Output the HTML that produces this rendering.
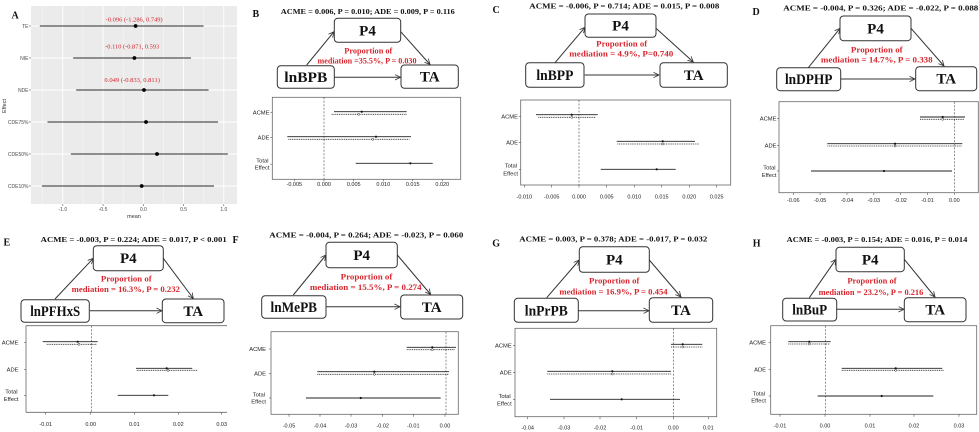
<!DOCTYPE html>
<html><head><meta charset="utf-8"><style>
html,body{margin:0;padding:0;background:#fff;}
svg{display:block;}
.sf{font-family:"Liberation Serif",serif;}
.ss{font-family:"Liberation Sans",sans-serif;}
.tt{font-family:"Liberation Serif",serif;font-weight:bold;font-size:7.5px;fill:#111;text-anchor:middle;}
.rd{font-family:"Liberation Serif",serif;font-weight:bold;font-size:8px;fill:#d8262e;text-anchor:middle;}
.bl{font-family:"Liberation Serif",serif;font-weight:bold;font-size:15px;fill:#111;text-anchor:middle;}
.lt{font-family:"Liberation Serif",serif;font-weight:bold;font-size:10px;fill:#111;}
.bx{fill:#fff;stroke:#333;stroke-width:1;}
.ar{stroke:#333;stroke-width:1;fill:none;}
.pb{fill:none;stroke:#666;stroke-width:0.8;}
.xl{font-family:"Liberation Sans",sans-serif;font-size:5.5px;fill:#222;text-anchor:middle;}
.yl{font-family:"Liberation Sans",sans-serif;font-size:5.8px;fill:#222;text-anchor:end;}
.tk{stroke:#555;stroke-width:0.6;}
.s{stroke:#222;stroke-width:0.9;}
.d{stroke:#222;stroke-width:0.8;stroke-dasharray:1,0.8;}
.z{stroke:#444;stroke-width:0.6;stroke-dasharray:2,1.5;}
.pt{fill:#111;}
</style></head><body>
<svg width="979" height="432" viewBox="0 0 979 432" xmlns="http://www.w3.org/2000/svg">
<defs>
<marker id="ah" markerWidth="7" markerHeight="7" refX="5.5" refY="3" orient="auto" markerUnits="userSpaceOnUse"><path d="M0,0.3 L5.5,3 L0,5.7" fill="none" stroke="#333" stroke-width="0.8"/></marker>
<clipPath id="ce"><rect x="0" y="215" width="227" height="217"/></clipPath>
</defs>

<!-- ================= Panel A ================= -->
<rect x="31" y="6" width="206" height="198" fill="#ebebeb"/>
<g stroke="#fff" stroke-width="0.4">
<line x1="42.7" y1="6" x2="42.7" y2="204"/><line x1="82.9" y1="6" x2="82.9" y2="204"/><line x1="123.2" y1="6" x2="123.2" y2="204"/><line x1="163.4" y1="6" x2="163.4" y2="204"/><line x1="203.7" y1="6" x2="203.7" y2="204"/>
</g>
<g stroke="#fff" stroke-width="0.9">
<line x1="62.8" y1="6" x2="62.8" y2="204"/><line x1="103.05" y1="6" x2="103.05" y2="204"/><line x1="143.3" y1="6" x2="143.3" y2="204"/><line x1="183.55" y1="6" x2="183.55" y2="204"/><line x1="223.8" y1="6" x2="223.8" y2="204"/>
<line x1="31" y1="26" x2="237" y2="26"/><line x1="31" y1="58" x2="237" y2="58"/><line x1="31" y1="90" x2="237" y2="90"/><line x1="31" y1="122" x2="237" y2="122"/><line x1="31" y1="154" x2="237" y2="154"/><line x1="31" y1="186" x2="237" y2="186"/>
</g>
<g stroke="#555" stroke-width="1.3">
<line x1="39.8" y1="26" x2="203.6" y2="26"/>
<line x1="73.2" y1="58" x2="191" y2="58"/>
<line x1="76.2" y1="90" x2="208.6" y2="90"/>
<line x1="47.5" y1="122" x2="218" y2="122"/>
<line x1="70.8" y1="154" x2="227.8" y2="154"/>
<line x1="41.9" y1="186" x2="214" y2="186"/>
</g>
<g fill="#000">
<circle cx="135.6" cy="26" r="1.9"/><circle cx="134.4" cy="58" r="1.9"/><circle cx="144" cy="90" r="1.9"/><circle cx="146" cy="122" r="1.9"/><circle cx="157" cy="154" r="1.9"/><circle cx="141.7" cy="186" r="1.9"/>
</g>
<g class="sf" font-size="6px" fill="#d8262e" text-anchor="middle">
<text x="134.2" y="21.3" textLength="57" lengthAdjust="spacingAndGlyphs">-0.096 (-1.286, 0.749)</text>
<text x="132.2" y="48.7" textLength="54" lengthAdjust="spacingAndGlyphs">-0.110 (-0.871, 0.593</text>
<text x="132.2" y="82" textLength="55.5" lengthAdjust="spacingAndGlyphs">0.049 (-0.833, 0.811)</text>
</g>
<g class="ss" font-size="5px" fill="#4d4d4d" text-anchor="end">
<text x="28.5" y="27.8">TE</text><text x="28.5" y="59.8">NIE</text><text x="28.5" y="91.8">NDE</text><text x="28.5" y="123.8">CDE75%</text><text x="28.5" y="155.8">CDE50%</text><text x="28.5" y="187.8">CDE10%</text>
</g>
<g class="tk"><line x1="29" y1="26" x2="31" y2="26"/><line x1="29" y1="58" x2="31" y2="58"/><line x1="29" y1="90" x2="31" y2="90"/><line x1="29" y1="122" x2="31" y2="122"/><line x1="29" y1="154" x2="31" y2="154"/><line x1="29" y1="186" x2="31" y2="186"/>
<line x1="62.8" y1="204" x2="62.8" y2="206"/><line x1="103.05" y1="204" x2="103.05" y2="206"/><line x1="143.3" y1="204" x2="143.3" y2="206"/><line x1="183.55" y1="204" x2="183.55" y2="206"/><line x1="223.8" y1="204" x2="223.8" y2="206"/></g>
<g class="ss" font-size="5px" fill="#4d4d4d" text-anchor="middle">
<text x="62.8" y="211">-1.0</text><text x="103.05" y="211">-0.5</text><text x="143.3" y="211">0.0</text><text x="183.55" y="211">0.5</text><text x="223.8" y="211">1.0</text>
</g>
<text class="ss" x="134" y="218" font-size="5.5px" fill="#333" text-anchor="middle">mean</text>
<text class="ss" x="0" y="0" font-size="5.5px" fill="#333" text-anchor="middle" transform="translate(6,106) rotate(-90)">Effect</text>
<text class="lt" x="11.5" y="18.5">A</text>

<!-- ================= Panel B ================= -->
<text class="lt" x="252.5" y="17">B</text>
<text class="tt" x="367.8" y="14" textLength="174" lengthAdjust="spacingAndGlyphs">ACME = 0.006, P = 0.010; ADE = 0.009, P = 0.116</text>
<line class="ar" x1="306.7" y1="65" x2="334" y2="31.7" marker-end="url(#ah)"/>
<line class="ar" x1="400.7" y1="31.7" x2="430" y2="64.5" marker-end="url(#ah)"/>
<line class="ar" x1="334.7" y1="77.3" x2="400.5" y2="77.3" marker-end="url(#ah)"/>
<rect class="bx" x="334.3" y="18.3" width="66.4" height="24" rx="3.5"/>
<rect class="bx" x="277.3" y="65.7" width="57" height="22.6" rx="3.5"/>
<rect class="bx" x="401" y="65" width="57.3" height="23.3" rx="3.5"/>
<text class="bl" x="367.5" y="35.3">P4</text>
<text class="bl" x="305.8" y="82" textLength="43" lengthAdjust="spacingAndGlyphs">lnBPB</text>
<text class="bl" x="429.7" y="81.7">TA</text>
<text class="rd" x="368.3" y="53.5" textLength="48" lengthAdjust="spacingAndGlyphs">Proportion of</text>
<text class="rd" x="367" y="63.3" textLength="99" lengthAdjust="spacingAndGlyphs">mediation =35.5%, P = 0.030</text>
<rect class="pb" x="272.3" y="97.3" width="188.4" height="82"/>
<line class="z" x1="324" y1="97.3" x2="324" y2="179.3"/>
<g class="tk"><line x1="270.3" y1="112.7" x2="272.3" y2="112.7"/><line x1="270.3" y1="137.7" x2="272.3" y2="137.7"/><line x1="270.3" y1="164.2" x2="272.3" y2="164.2"/>
<line x1="294.3" y1="179.3" x2="294.3" y2="181.3"/><line x1="324" y1="179.3" x2="324" y2="181.3"/><line x1="353.7" y1="179.3" x2="353.7" y2="181.3"/><line x1="383.3" y1="179.3" x2="383.3" y2="181.3"/><line x1="412.7" y1="179.3" x2="412.7" y2="181.3"/><line x1="442.3" y1="179.3" x2="442.3" y2="181.3"/></g>
<text class="yl" x="269.5" y="114.7">ACME</text><text class="yl" x="269.5" y="139.7">ADE</text><text class="yl" x="268.5" y="162.7">Total</text><text class="yl" x="269.5" y="169.7">Effect</text>
<text class="xl" x="294.3" y="186">-0.005</text><text class="xl" x="324" y="186">0.000</text><text class="xl" x="353.7" y="186">0.005</text><text class="xl" x="383.3" y="186">0.010</text><text class="xl" x="412.7" y="186">0.015</text><text class="xl" x="442.3" y="186">0.020</text>
<line class="s" x1="334" y1="111.7" x2="406.7" y2="111.7"/><line class="d" x1="331.7" y1="114.3" x2="406.7" y2="114.3"/>
<line class="s" x1="287.3" y1="136.7" x2="411" y2="136.7"/><line class="d" x1="288.3" y1="139.3" x2="409.3" y2="139.3"/>
<line class="s" x1="355.7" y1="163.3" x2="432.7" y2="163.3"/>
<circle class="pt" cx="361.7" cy="111.7" r="1.1"/><circle cx="358.7" cy="114.3" r="1" fill="#fff" stroke="#222" stroke-width="0.5"/>
<circle class="pt" cx="376" cy="136.7" r="1.1"/><circle cx="372.7" cy="139.3" r="1" fill="#fff" stroke="#222" stroke-width="0.5"/>
<circle class="pt" cx="410.3" cy="163.3" r="1.1"/>

<!-- ================= Panel C ================= -->
<text class="lt" x="492.5" y="13">C</text>
<text class="tt" x="624.3" y="8.3" textLength="190" lengthAdjust="spacingAndGlyphs">ACME = -0.006, P = 0.714; ADE = 0.015, P = 0.008</text>
<line class="ar" x1="555" y1="62.7" x2="585" y2="27.3" marker-end="url(#ah)"/>
<line class="ar" x1="656" y1="28.3" x2="693.3" y2="62" marker-end="url(#ah)"/>
<line class="ar" x1="584.7" y1="75" x2="659" y2="75" marker-end="url(#ah)"/>
<rect class="bx" x="585" y="14" width="71" height="23.3" rx="3.5"/>
<rect class="bx" x="525.7" y="62.7" width="58.3" height="24.6" rx="3.5"/>
<rect class="bx" x="660" y="62.7" width="67.3" height="24.6" rx="3.5"/>
<text class="bl" x="620.5" y="30.7">P4</text>
<text class="bl" x="554.9" y="80" textLength="37" lengthAdjust="spacingAndGlyphs">lnBPP</text>
<text class="bl" x="693.7" y="80">TA</text>
<text class="rd" x="621.7" y="46.5" textLength="51" lengthAdjust="spacingAndGlyphs">Proportion of</text>
<text class="rd" x="621.3" y="56.7" textLength="104" lengthAdjust="spacingAndGlyphs">mediation = 4.9%, P=0.740</text>
<rect class="pb" x="520.7" y="100" width="210" height="85"/>
<line class="z" x1="579" y1="100" x2="579" y2="185"/>
<g class="tk"><line x1="518.7" y1="116.3" x2="520.7" y2="116.3"/><line x1="518.7" y1="142.7" x2="520.7" y2="142.7"/><line x1="518.7" y1="169.5" x2="520.7" y2="169.5"/>
<line x1="524.3" y1="185" x2="524.3" y2="187.5"/><line x1="551.7" y1="185" x2="551.7" y2="187.5"/><line x1="579" y1="185" x2="579" y2="187.5"/><line x1="606.7" y1="185" x2="606.7" y2="187.5"/><line x1="634.3" y1="185" x2="634.3" y2="187.5"/><line x1="661.7" y1="185" x2="661.7" y2="187.5"/><line x1="689.3" y1="185" x2="689.3" y2="187.5"/><line x1="716.7" y1="185" x2="716.7" y2="187.5"/></g>
<text class="yl" x="518" y="118.3">ACME</text><text class="yl" x="518" y="144.7">ADE</text><text class="yl" x="517" y="167.7">Total</text><text class="yl" x="518" y="175.3">Effect</text>
<text class="xl" x="524.3" y="198.7">-0.010</text><text class="xl" x="551.7" y="198.7">-0.005</text><text class="xl" x="579" y="198.7">0.000</text><text class="xl" x="606.7" y="198.7">0.005</text><text class="xl" x="634.3" y="198.7">0.010</text><text class="xl" x="661.7" y="198.7">0.015</text><text class="xl" x="689.3" y="198.7">0.020</text><text class="xl" x="716.7" y="198.7">0.025</text>
<line class="s" x1="536" y1="114.7" x2="597.7" y2="114.7"/><line class="d" x1="538.3" y1="117.3" x2="596" y2="117.3"/>
<line class="s" x1="616.7" y1="141.3" x2="695" y2="141.3"/><line class="d" x1="617.3" y1="144" x2="699" y2="144"/>
<line class="s" x1="600.7" y1="169.3" x2="675.7" y2="169.3"/>
<circle class="pt" cx="571.7" cy="114.7" r="1.1"/><circle cx="571.7" cy="117.3" r="1" fill="#fff" stroke="#222" stroke-width="0.5"/>
<circle class="pt" cx="662.7" cy="141.3" r="1.1"/><circle cx="662.7" cy="144" r="1" fill="#fff" stroke="#222" stroke-width="0.5"/>
<circle class="pt" cx="656.7" cy="169.3" r="1.1"/>

<!-- ================= Panel D ================= -->
<text class="lt" x="752.5" y="15">D</text>
<text class="tt" x="880.8" y="10.5" textLength="195" lengthAdjust="spacingAndGlyphs">ACME = -0.004, P = 0.326; ADE = -0.022, P = 0.088</text>
<line class="ar" x1="808.3" y1="67.7" x2="840" y2="28.3" marker-end="url(#ah)"/>
<line class="ar" x1="911" y1="28.3" x2="944" y2="66" marker-end="url(#ah)"/>
<line class="ar" x1="840.7" y1="79" x2="915" y2="79" marker-end="url(#ah)"/>
<rect class="bx" x="840" y="16" width="71" height="24.7" rx="3.5"/>
<rect class="bx" x="776.7" y="67.7" width="64" height="23" rx="3.5"/>
<rect class="bx" x="915.7" y="66.7" width="61" height="24" rx="3.5"/>
<text class="bl" x="875.5" y="33.3">P4</text>
<text class="bl" x="808.7" y="84.2" textLength="47.5" lengthAdjust="spacingAndGlyphs">lnDPHP</text>
<text class="bl" x="946.2" y="83.7">TA</text>
<text class="rd" x="876.8" y="52.5" textLength="51.7" lengthAdjust="spacingAndGlyphs">Proportion of</text>
<text class="rd" x="876.8" y="62.7" textLength="111.7" lengthAdjust="spacingAndGlyphs">mediation = 14.7%, P = 0.338</text>
<rect class="pb" x="779" y="101.7" width="199.3" height="91"/>
<line class="z" x1="954.3" y1="101.7" x2="954.3" y2="192.7"/>
<g class="tk"><line x1="777" y1="118.3" x2="779" y2="118.3"/><line x1="777" y1="145.3" x2="779" y2="145.3"/><line x1="777" y1="171" x2="779" y2="171"/>
<line x1="793.3" y1="192.7" x2="793.3" y2="195"/><line x1="820.1" y1="192.7" x2="820.1" y2="195"/><line x1="847" y1="192.7" x2="847" y2="195"/><line x1="873.8" y1="192.7" x2="873.8" y2="195"/><line x1="900.6" y1="192.7" x2="900.6" y2="195"/><line x1="927.5" y1="192.7" x2="927.5" y2="195"/><line x1="954.3" y1="192.7" x2="954.3" y2="195"/></g>
<text class="yl" x="776.5" y="120.3">ACME</text><text class="yl" x="776.5" y="147.3">ADE</text><text class="yl" x="775.5" y="169.3">Total</text><text class="yl" x="776.5" y="177">Effect</text>
<text class="xl" x="793.3" y="202">-0.06</text><text class="xl" x="820.1" y="202">-0.05</text><text class="xl" x="847" y="202">-0.04</text><text class="xl" x="873.8" y="202">-0.03</text><text class="xl" x="900.6" y="202">-0.02</text><text class="xl" x="927.5" y="202">-0.01</text><text class="xl" x="954.3" y="202">0.00</text>
<line class="s" x1="920" y1="117" x2="965" y2="117"/><line class="d" x1="920" y1="119.3" x2="964" y2="119.3"/>
<line class="s" x1="827.3" y1="143.7" x2="962.3" y2="143.7"/><line class="d" x1="827.3" y1="146" x2="962.3" y2="146"/>
<line class="s" x1="811" y1="171" x2="952" y2="171"/>
<circle class="pt" cx="942.7" cy="117" r="1.1"/><circle cx="942.7" cy="119.3" r="1" fill="#fff" stroke="#222" stroke-width="0.5"/>
<circle class="pt" cx="895" cy="143.7" r="1.1"/><circle cx="895" cy="146" r="1" fill="#fff" stroke="#222" stroke-width="0.5"/>
<circle class="pt" cx="884" cy="171" r="1.1"/>

<!-- ================= Panel E ================= -->
<text class="lt" x="3.5" y="245.7">E</text>
<text class="tt" x="133.7" y="242" textLength="186" lengthAdjust="spacingAndGlyphs">ACME = -0.003, P = 0.224; ADE = 0.017, P &lt; 0.001</text>
<line class="ar" x1="55" y1="299" x2="93.3" y2="258.3" marker-end="url(#ah)"/>
<line class="ar" x1="163.3" y1="258.3" x2="193.3" y2="298.5" marker-end="url(#ah)"/>
<line class="ar" x1="90" y1="310.7" x2="162" y2="310.7" marker-end="url(#ah)"/>
<rect class="bx" x="93.3" y="245.7" width="70" height="25" rx="3.5"/>
<rect class="bx" x="21" y="299.7" width="68.3" height="22.6" rx="3.5"/>
<rect class="bx" x="162.3" y="299" width="61.7" height="23.7" rx="3.5"/>
<text class="bl" x="128.3" y="263.2">P4</text>
<text class="bl" x="55.2" y="316" textLength="50" lengthAdjust="spacingAndGlyphs">lnPFHxS</text>
<text class="bl" x="193.2" y="315.8">TA</text>
<text class="rd" x="126.3" y="281.6" textLength="50.7" lengthAdjust="spacingAndGlyphs">Proportion of</text>
<text class="rd" x="125.8" y="292" textLength="108.3" lengthAdjust="spacingAndGlyphs">mediation = 16.3%, P = 0.232</text>
<g class="pb"><line x1="26" y1="325.7" x2="227" y2="325.7"/><line x1="26" y1="325.7" x2="26" y2="412.3"/><line x1="26" y1="412.3" x2="227" y2="412.3"/></g>
<line class="z" x1="91.3" y1="325.7" x2="91.3" y2="412.3"/>
<g class="tk"><line x1="24" y1="342.7" x2="26" y2="342.7"/><line x1="24" y1="369.3" x2="26" y2="369.3"/><line x1="24" y1="395.3" x2="26" y2="395.3"/>
<line x1="45.7" y1="412.3" x2="45.7" y2="414.8"/><line x1="90.7" y1="412.3" x2="90.7" y2="414.8"/><line x1="134.3" y1="412.3" x2="134.3" y2="414.8"/><line x1="178.3" y1="412.3" x2="178.3" y2="414.8"/><line x1="221.7" y1="412.3" x2="221.7" y2="414.8"/></g>
<text class="yl" x="18.5" y="344.7">ACME</text><text class="yl" x="18.5" y="371.3">ADE</text><text class="yl" x="17.5" y="393.7">Total</text><text class="yl" x="18.5" y="401">Effect</text>
<g clip-path="url(#ce)"><text class="xl" x="45.7" y="426">-0.01</text><text class="xl" x="90.7" y="426">0.00</text><text class="xl" x="134.3" y="426">0.01</text><text class="xl" x="178.3" y="426">0.02</text><text class="xl" x="221.7" y="426">0.03</text></g>
<line class="s" x1="42.7" y1="341.7" x2="97.7" y2="341.7"/><line class="d" x1="46.7" y1="344.3" x2="96.7" y2="344.3"/>
<line class="s" x1="136" y1="368.3" x2="192.3" y2="368.3"/><line class="d" x1="136.7" y1="370.3" x2="197.3" y2="370.3"/>
<line class="s" x1="117.7" y1="395.3" x2="168.3" y2="395.3"/>
<circle class="pt" cx="77.7" cy="341.7" r="1.1"/><circle cx="79" cy="344.3" r="1" fill="#fff" stroke="#222" stroke-width="0.5"/>
<circle class="pt" cx="166.7" cy="368.3" r="1.1"/><circle cx="168" cy="370.3" r="1" fill="#fff" stroke="#222" stroke-width="0.5"/>
<circle class="pt" cx="154" cy="395.3" r="1.1"/>

<!-- ================= Panel F ================= -->
<text class="lt" x="232.5" y="243">F</text>
<text class="tt" x="366.3" y="237.5" textLength="194" lengthAdjust="spacingAndGlyphs">ACME = -0.004, P = 0.264; ADE = -0.023, P = 0.060</text>
<line class="ar" x1="293.3" y1="295" x2="326" y2="255" marker-end="url(#ah)"/>
<line class="ar" x1="397.3" y1="255" x2="430.7" y2="294.5" marker-end="url(#ah)"/>
<line class="ar" x1="326" y1="306.7" x2="400" y2="306.7" marker-end="url(#ah)"/>
<rect class="bx" x="326" y="242.3" width="71.3" height="25.4" rx="3.5"/>
<rect class="bx" x="261.7" y="295.7" width="64.3" height="22.6" rx="3.5"/>
<rect class="bx" x="400.7" y="295" width="62" height="24" rx="3.5"/>
<text class="bl" x="361.7" y="260">P4</text>
<text class="bl" x="293.8" y="312" textLength="46.5" lengthAdjust="spacingAndGlyphs">lnMePB</text>
<text class="bl" x="431.7" y="312">TA</text>
<text class="rd" x="366.5" y="279.3" textLength="51.7" lengthAdjust="spacingAndGlyphs">Proportion of</text>
<text class="rd" x="365.8" y="290" textLength="111.7" lengthAdjust="spacingAndGlyphs">mediation = 15.5%, P = 0.274</text>
<rect class="pb" x="271" y="331.7" width="187.3" height="82.6"/>
<line class="z" x1="446" y1="331.7" x2="446" y2="414.3"/>
<g class="tk"><line x1="269" y1="349" x2="271" y2="349"/><line x1="269" y1="373.3" x2="271" y2="373.3"/><line x1="269" y1="398" x2="271" y2="398"/>
<line x1="289" y1="414.3" x2="289" y2="416.8"/><line x1="320" y1="414.3" x2="320" y2="416.8"/><line x1="351" y1="414.3" x2="351" y2="416.8"/><line x1="382.7" y1="414.3" x2="382.7" y2="416.8"/><line x1="413.3" y1="414.3" x2="413.3" y2="416.8"/><line x1="445" y1="414.3" x2="445" y2="416.8"/></g>
<text class="yl" x="266" y="351">ACME</text><text class="yl" x="266" y="375.3">ADE</text><text class="yl" x="265" y="396.3">Total</text><text class="yl" x="266" y="403.7">Effect</text>
<text class="xl" x="289" y="427.7">-0.05</text><text class="xl" x="320" y="427.7">-0.04</text><text class="xl" x="351" y="427.7">-0.03</text><text class="xl" x="382.7" y="427.7">-0.02</text><text class="xl" x="413.3" y="427.7">-0.01</text><text class="xl" x="445" y="427.7">0.00</text>
<line class="s" x1="406.7" y1="347.3" x2="456" y2="347.3"/><line class="d" x1="406.7" y1="349.7" x2="455" y2="349.7"/>
<line class="s" x1="317.3" y1="371.7" x2="449" y2="371.7"/><line class="d" x1="317.3" y1="374.3" x2="449" y2="374.3"/>
<line class="s" x1="306" y1="398" x2="440.7" y2="398"/>
<circle class="pt" cx="432.3" cy="347.3" r="1.1"/><circle cx="432.3" cy="349.7" r="1" fill="#fff" stroke="#222" stroke-width="0.5"/>
<circle class="pt" cx="374.3" cy="371.7" r="1.1"/><circle cx="374.3" cy="374.3" r="1" fill="#fff" stroke="#222" stroke-width="0.5"/>
<circle class="pt" cx="360.7" cy="398" r="1.1"/>

<!-- ================= Panel G ================= -->
<text class="lt" x="492.2" y="246.7">G</text>
<text class="tt" x="613.3" y="241.5" textLength="188" lengthAdjust="spacingAndGlyphs">ACME = 0.003, P = 0.378; ADE = -0.017, P = 0.032</text>
<line class="ar" x1="546.7" y1="297.7" x2="579.3" y2="260" marker-end="url(#ah)"/>
<line class="ar" x1="649.3" y1="260" x2="681" y2="297" marker-end="url(#ah)"/>
<line class="ar" x1="578.3" y1="310.7" x2="649" y2="310.7" marker-end="url(#ah)"/>
<rect class="bx" x="579.3" y="246.7" width="70" height="25.6" rx="3.5"/>
<rect class="bx" x="514.3" y="298.3" width="64" height="24" rx="3.5"/>
<rect class="bx" x="649.3" y="297.7" width="63.4" height="24.6" rx="3.5"/>
<text class="bl" x="614.3" y="264.5">P4</text>
<text class="bl" x="546.3" y="315.3" textLength="43" lengthAdjust="spacingAndGlyphs">lnPrPB</text>
<text class="bl" x="681" y="315">TA</text>
<text class="rd" x="614.2" y="283.7" textLength="50.3" lengthAdjust="spacingAndGlyphs">Proportion of</text>
<text class="rd" x="613.5" y="294.3" textLength="108.3" lengthAdjust="spacingAndGlyphs">mediation = 16.9%, P = 0.454</text>
<rect class="pb" x="515" y="328.3" width="201.7" height="88.4"/>
<line class="z" x1="673.3" y1="328.3" x2="673.3" y2="416.7"/>
<g class="tk"><line x1="513" y1="345.7" x2="515" y2="345.7"/><line x1="513" y1="372.7" x2="515" y2="372.7"/><line x1="513" y1="399.5" x2="515" y2="399.5"/>
<line x1="527.7" y1="416.7" x2="527.7" y2="419.2"/><line x1="564" y1="416.7" x2="564" y2="419.2"/><line x1="600" y1="416.7" x2="600" y2="419.2"/><line x1="636.7" y1="416.7" x2="636.7" y2="419.2"/><line x1="673.3" y1="416.7" x2="673.3" y2="419.2"/><line x1="708.3" y1="416.7" x2="708.3" y2="419.2"/></g>
<text class="yl" x="511.7" y="347.7">ACME</text><text class="yl" x="511.7" y="374.7">ADE</text><text class="yl" x="510.7" y="398">Total</text><text class="yl" x="511.7" y="405.3">Effect</text>
<text class="xl" x="527.7" y="429.7">-0.04</text><text class="xl" x="564" y="429.7">-0.03</text><text class="xl" x="600" y="429.7">-0.02</text><text class="xl" x="636.7" y="429.7">-0.01</text><text class="xl" x="673.3" y="429.7">0.00</text><text class="xl" x="708.3" y="429.7">0.01</text>
<line class="s" x1="671" y1="344.3" x2="702.3" y2="344.3"/><line class="d" x1="671" y1="347" x2="702.3" y2="347"/>
<line class="s" x1="547.3" y1="371.3" x2="671" y2="371.3"/><line class="d" x1="547.3" y1="374" x2="671.7" y2="374"/>
<line class="s" x1="550" y1="399.3" x2="680" y2="399.3"/>
<circle class="pt" cx="682.7" cy="344.3" r="1.1"/><circle cx="682.7" cy="347" r="1" fill="#fff" stroke="#222" stroke-width="0.5"/>
<circle class="pt" cx="612.3" cy="371.3" r="1.1"/><circle cx="612.3" cy="374" r="1" fill="#fff" stroke="#222" stroke-width="0.5"/>
<circle class="pt" cx="621.7" cy="399.3" r="1.1"/>

<!-- ================= Panel H ================= -->
<text class="lt" x="752.8" y="246.7">H</text>
<text class="tt" x="877" y="242" textLength="180.6" lengthAdjust="spacingAndGlyphs">ACME = -0.003, P = 0.154; ADE = 0.016, P = 0.014</text>
<line class="ar" x1="809.3" y1="297.7" x2="836" y2="259.3" marker-end="url(#ah)"/>
<line class="ar" x1="904.3" y1="259.3" x2="935" y2="297" marker-end="url(#ah)"/>
<line class="ar" x1="836.7" y1="309.3" x2="904" y2="309.3" marker-end="url(#ah)"/>
<rect class="bx" x="836" y="247.3" width="68.3" height="24.4" rx="3.5"/>
<rect class="bx" x="782.7" y="298.3" width="54" height="22.7" rx="3.5"/>
<rect class="bx" x="904.3" y="297.7" width="61.7" height="24" rx="3.5"/>
<text class="bl" x="870.2" y="264.5">P4</text>
<text class="bl" x="809.7" y="314.7" textLength="35" lengthAdjust="spacingAndGlyphs">lnBuP</text>
<text class="bl" x="935.2" y="314.7">TA</text>
<text class="rd" x="872" y="283.7" textLength="49.3" lengthAdjust="spacingAndGlyphs">Proportion of</text>
<text class="rd" x="871" y="295" textLength="104.7" lengthAdjust="spacingAndGlyphs">mediation = 23.2%, P = 0.216</text>
<rect class="pb" x="770.7" y="325.7" width="206" height="88.6"/>
<line class="z" x1="825.7" y1="325.7" x2="825.7" y2="414.3"/>
<g class="tk"><line x1="768.7" y1="342.7" x2="770.7" y2="342.7"/><line x1="768.7" y1="369.3" x2="770.7" y2="369.3"/><line x1="768.7" y1="396" x2="770.7" y2="396"/>
<line x1="780" y1="414.3" x2="780" y2="416.8"/><line x1="825" y1="414.3" x2="825" y2="416.8"/><line x1="870" y1="414.3" x2="870" y2="416.8"/><line x1="914" y1="414.3" x2="914" y2="416.8"/><line x1="959" y1="414.3" x2="959" y2="416.8"/></g>
<text class="yl" x="766" y="344.7">ACME</text><text class="yl" x="766" y="371.3">ADE</text><text class="yl" x="765" y="395.3">Total</text><text class="yl" x="766" y="402.7">Effect</text>
<text class="xl" x="780" y="427.7">-0.01</text><text class="xl" x="825" y="427.7">0.00</text><text class="xl" x="870" y="427.7">0.01</text><text class="xl" x="914" y="427.7">0.02</text><text class="xl" x="959" y="427.7">0.03</text>
<line class="s" x1="788.3" y1="341.7" x2="830.7" y2="341.7"/><line class="d" x1="788.3" y1="344" x2="830" y2="344"/>
<line class="s" x1="841.7" y1="368.3" x2="942.3" y2="368.3"/><line class="d" x1="841.7" y1="370.3" x2="944" y2="370.3"/>
<line class="s" x1="817.7" y1="396" x2="933.3" y2="396"/>
<circle class="pt" cx="809.3" cy="341.7" r="1.1"/><circle cx="809.3" cy="344" r="1" fill="#fff" stroke="#222" stroke-width="0.5"/>
<circle class="pt" cx="895.7" cy="368.3" r="1.1"/><circle cx="895.7" cy="370.3" r="1" fill="#fff" stroke="#222" stroke-width="0.5"/>
<circle class="pt" cx="881.7" cy="396" r="1.1"/>
</svg>
</body></html>
